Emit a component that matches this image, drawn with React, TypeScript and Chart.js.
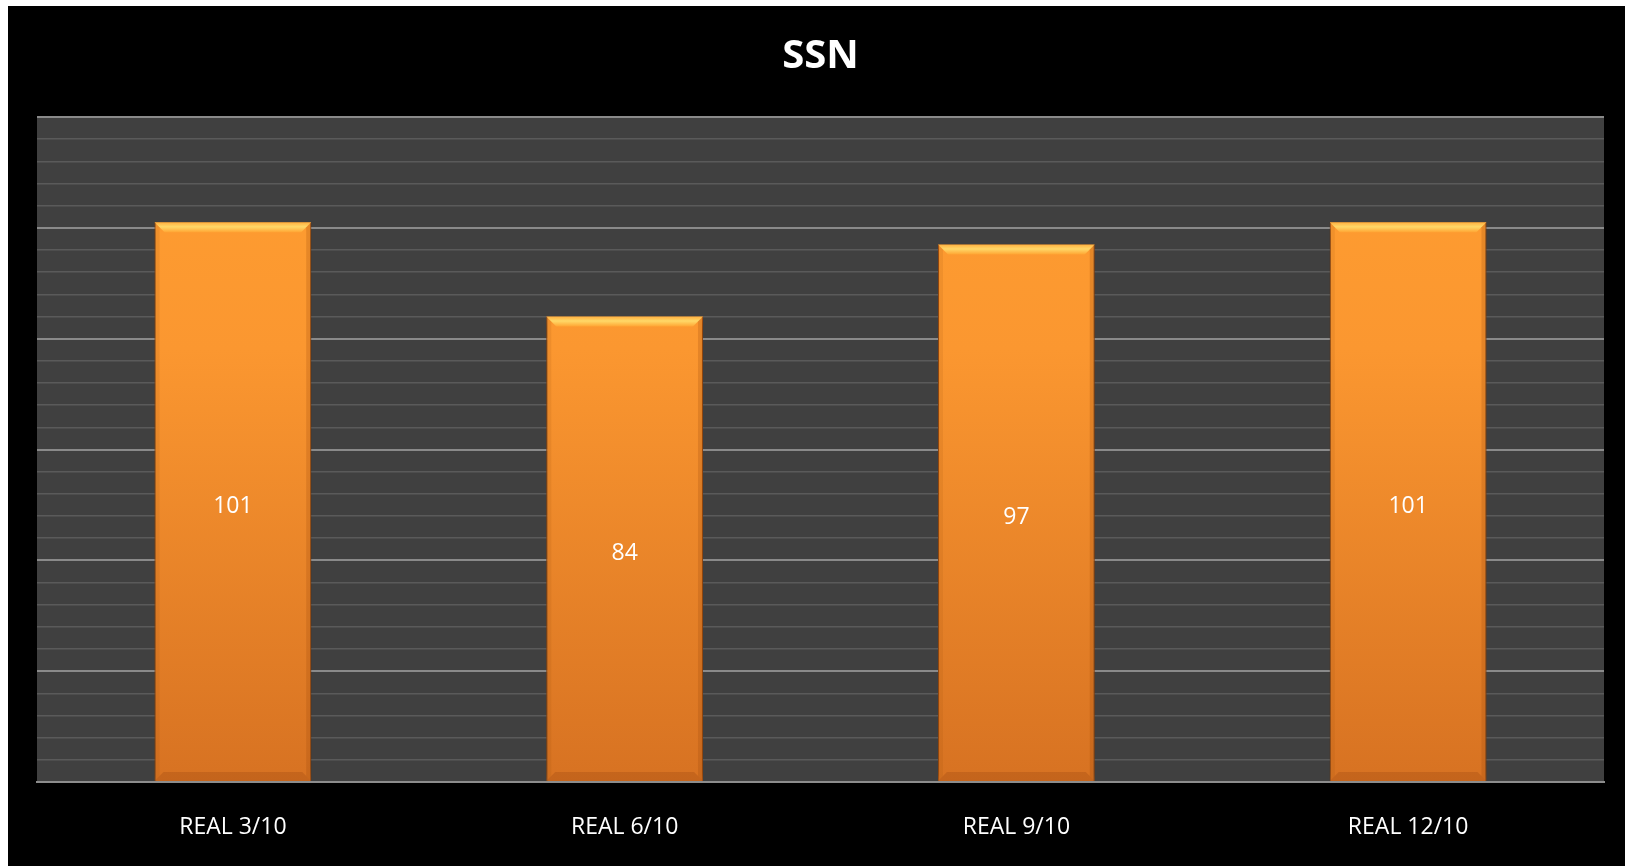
import React, { useEffect, useRef } from "react";
import { Chart, registerables } from "chart.js";

Chart.register(...registerables);

const categories = ["REAL 3/10", "REAL 6/10", "REAL 9/10", "REAL 12/10"];
const ssnValues = [101, 84, 97, 101];
const chartTitle = "SSN";
const yMin = 0;
const yMax = 120;
const yStep = 4;
const majorStep = 20;

const FONT = "'Open Sans', 'Liberation Sans', sans-serif";

const bgPlugin = {
  id: "bgPlugin",
  beforeDraw(chart: any) {
    const { ctx, chartArea, width, height } = chart;
    ctx.save();
    ctx.fillStyle = "#000000";
    ctx.fillRect(0, 0, width, height);
    ctx.fillStyle = "#404040";
    ctx.fillRect(chartArea.left, chartArea.top, chartArea.right - chartArea.left, chartArea.bottom - chartArea.top);
    ctx.restore();
  },
};

const shadowPlugin = {
  id: "shadowPlugin",
  beforeDatasetsDraw(chart: any) {
    const ctx = chart.ctx;
    ctx.save();
    ctx.shadowColor = "rgba(0,0,0,0.6)";
    ctx.shadowBlur = 14;
    ctx.shadowOffsetX = 0;
    ctx.shadowOffsetY = 0;
  },
  afterDatasetsDraw(chart: any) {
    const ctx = chart.ctx;
    ctx.restore();
    const meta = chart.getDatasetMeta(0);
    ctx.save();
    meta.data.forEach((bar: any, i: number) => {
      const half = bar.width / 2;
      const l = bar.x - half;
      const r = bar.x + half;
      const t = bar.y;
      const b = bar.base;
      const bev = 10;
      // top bevel
      const g = ctx.createLinearGradient(0, t, 0, t + bev);
      g.addColorStop(0, "#ffb040");
      g.addColorStop(0.45, "#ffd868");
      g.addColorStop(1, "#ffa533");
      ctx.fillStyle = g;
      ctx.beginPath();
      ctx.moveTo(l, t);
      ctx.lineTo(r, t);
      ctx.lineTo(r - bev, t + bev);
      ctx.lineTo(l + bev, t + bev);
      ctx.closePath();
      ctx.fill();
      // side edges
      ctx.fillStyle = "rgba(150,70,10,0.22)";
      ctx.beginPath();
      ctx.moveTo(r, t);
      ctx.lineTo(r, b);
      ctx.lineTo(r - 5, b - 5);
      ctx.lineTo(r - 5, t + 5);
      ctx.closePath();
      ctx.fill();
      ctx.fillStyle = "rgba(150,70,10,0.12)";
      ctx.beginPath();
      ctx.moveTo(l, t);
      ctx.lineTo(l, b);
      ctx.lineTo(l + 5, b - 5);
      ctx.lineTo(l + 5, t + 5);
      ctx.closePath();
      ctx.fill();
      // bottom bevel
      ctx.fillStyle = "rgba(140,60,10,0.25)";
      ctx.beginPath();
      ctx.moveTo(l, b);
      ctx.lineTo(r, b);
      ctx.lineTo(r - 9, b - 9);
      ctx.lineTo(l + 9, b - 9);
      ctx.closePath();
      ctx.fill();
      // label
      ctx.fillStyle = "#ffffff";
      ctx.font = `23px ${FONT}`;
      ctx.textAlign = "center";
      ctx.textBaseline = "middle";
      ctx.fillText(String(ssnValues[i]), bar.x, (t + b) / 2 + 5);
    });
    ctx.restore();
  },
};

export default function App() {
  const ref = useRef<HTMLCanvasElement>(null);
  useEffect(() => {
    if (!ref.current) return;
    const chart = new Chart(ref.current, {
      type: "bar",
      data: {
        labels: categories,
        datasets: [
          {
            label: chartTitle,
            data: ssnValues,
            backgroundColor: (c: any) => {
              const ch = c.chart;
              const area = ch.chartArea;
              if (!area) return "#f08a28";
              const g = ch.ctx.createLinearGradient(0, area.top, 0, area.bottom);
              g.addColorStop(0, "#ff9e30");
              g.addColorStop(0.35, "#fb9730");
              g.addColorStop(1, "#d77222");
              return g;
            },
            borderColor: "#c8641a",
            borderWidth: 1,
            barPercentage: 0.4,
            categoryPercentage: 1.0,
          },
        ],
      },
      options: {
        responsive: false,
        animation: false,
        maintainAspectRatio: false,
        layout: { padding: { left: 29, right: 21, top: 0, bottom: 0 } },
        plugins: {
          legend: { display: false },
          tooltip: { enabled: false },
          title: {
            display: true,
            text: chartTitle,
            color: "#ffffff",
            font: { family: FONT, size: 40, weight: "bold" },
            padding: { top: 27, bottom: 36 },
          },
        },
        scales: {
          x: {
            grid: { display: false },
            border: { display: true, color: "#8c8c8c", width: 2 },
            ticks: {
              color: "#ffffff",
              font: { family: FONT, size: 23 },
              padding: 24,
            },
            afterFit: (axis: any) => {
              axis.height = 84;
            },
          },
          y: {
            min: yMin,
            max: yMax,
            ticks: { display: false, stepSize: yStep },
            border: { display: false },
            grid: {
              drawTicks: false,
              tickLength: 0,
              color: (c: any) => (c.tick && c.tick.value % majorStep === 0 ? "#8a8a8a" : "#5a5a5a"),
              lineWidth: (c: any) => (c.tick && c.tick.value % majorStep === 0 ? 2 : 1.5),
            },
          },
        },
      },
      plugins: [bgPlugin, shadowPlugin],
    });
    return () => chart.destroy();
  }, []);
  return (
    <div style={{ position: "absolute", left: 8, top: 6 }}>
      <canvas ref={ref} width={1617} height={860} style={{ display: "block" }} />
    </div>
  );
}
